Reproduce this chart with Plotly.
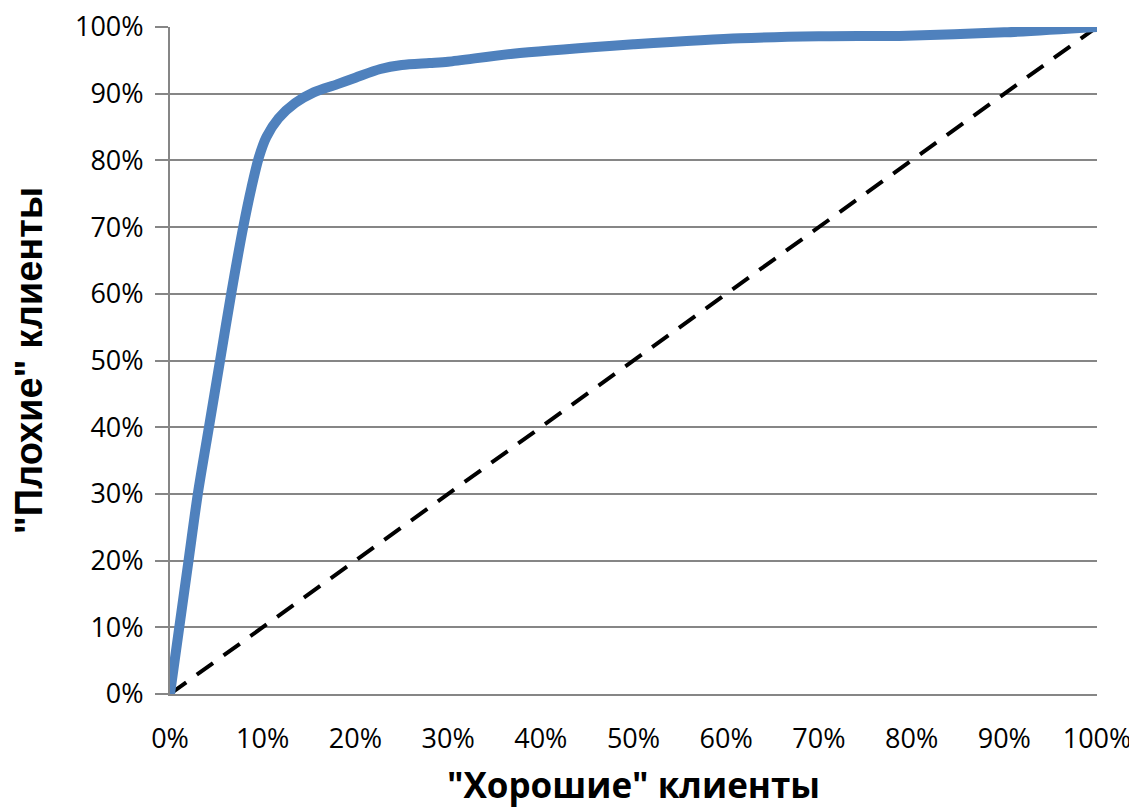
import plotly.graph_objects as go

# Data (percent)
good_pct = [0, 2.0, 3.0, 4.2, 5.4, 6.6, 7.9, 8.8, 9.6, 10.4, 11.7, 13.5, 15.5, 18.0, 20.0,
            22.7, 25.0, 28.0, 30.0, 37.0, 47.8, 50.0, 61.5, 70.0, 79.5, 90.0, 100.0]
bad_pct = [0, 20, 30, 40, 50, 60, 70, 76, 80.5, 83.5, 86.3, 88.6, 90.2, 91.4, 92.4,
           93.7, 94.3, 94.6, 94.8, 96.0, 97.2, 97.4, 98.3, 98.6, 98.7, 99.2, 100.0]
diag_x = [0, 100]
diag_y = [0, 100]
tick_vals = [0, 10, 20, 30, 40, 50, 60, 70, 80, 90, 100]
tick_text = [f"{v}%" for v in tick_vals]

x_title = '"Хорошие" клиенты'
y_title = '"Плохие" клиенты'

fig = go.Figure()
fig.add_trace(go.Scatter(x=diag_x, y=diag_y, mode="lines",
                         line=dict(color="black", width=4, dash="20px,13px"),
                         cliponaxis=False, showlegend=False, hoverinfo="skip"))
fig.add_trace(go.Scatter(x=good_pct, y=bad_pct, mode="lines",
                         line=dict(color="#4F81BD", width=10, shape="spline", smoothing=0.8),
                         cliponaxis=False, showlegend=False))

tick_font = dict(family="Open Sans, Lato, sans-serif", size=27, color="black")

fig.update_layout(
    width=1129, height=800,
    margin=dict(l=162, r=40, t=19, b=114),
    paper_bgcolor="white", plot_bgcolor="white",
    xaxis=dict(range=[0, 100], tickmode="array", tickvals=tick_vals, ticktext=tick_text,
               automargin=False, ticklabeloverflow="allow",
               showgrid=False, zeroline=False, showline=True, linecolor="#868686", linewidth=2,
               ticks="", tickfont=tick_font, ticklabelstandoff=20,
               title=dict(text=x_title, font=dict(family="Open Sans, sans-serif", size=35, color="black", weight="bold"),
                          standoff=28)),
    yaxis=dict(range=[0, 100], tickmode="array", tickvals=tick_vals, ticktext=tick_text,
               automargin=False, ticklabeloverflow="allow",
               showgrid=True, gridcolor="#868686", gridwidth=2,
               zeroline=False, showline=True, linecolor="#868686", linewidth=2,
               ticks="outside", ticklen=13, tickcolor="#868686", tickwidth=2,
               tickfont=tick_font, ticklabelstandoff=6,
               title=dict(text=y_title, font=dict(family="Liberation Sans Narrow, sans-serif", size=38, color="black", weight="bold"),
                          standoff=26)),
)

fig.write_html("out.html")
